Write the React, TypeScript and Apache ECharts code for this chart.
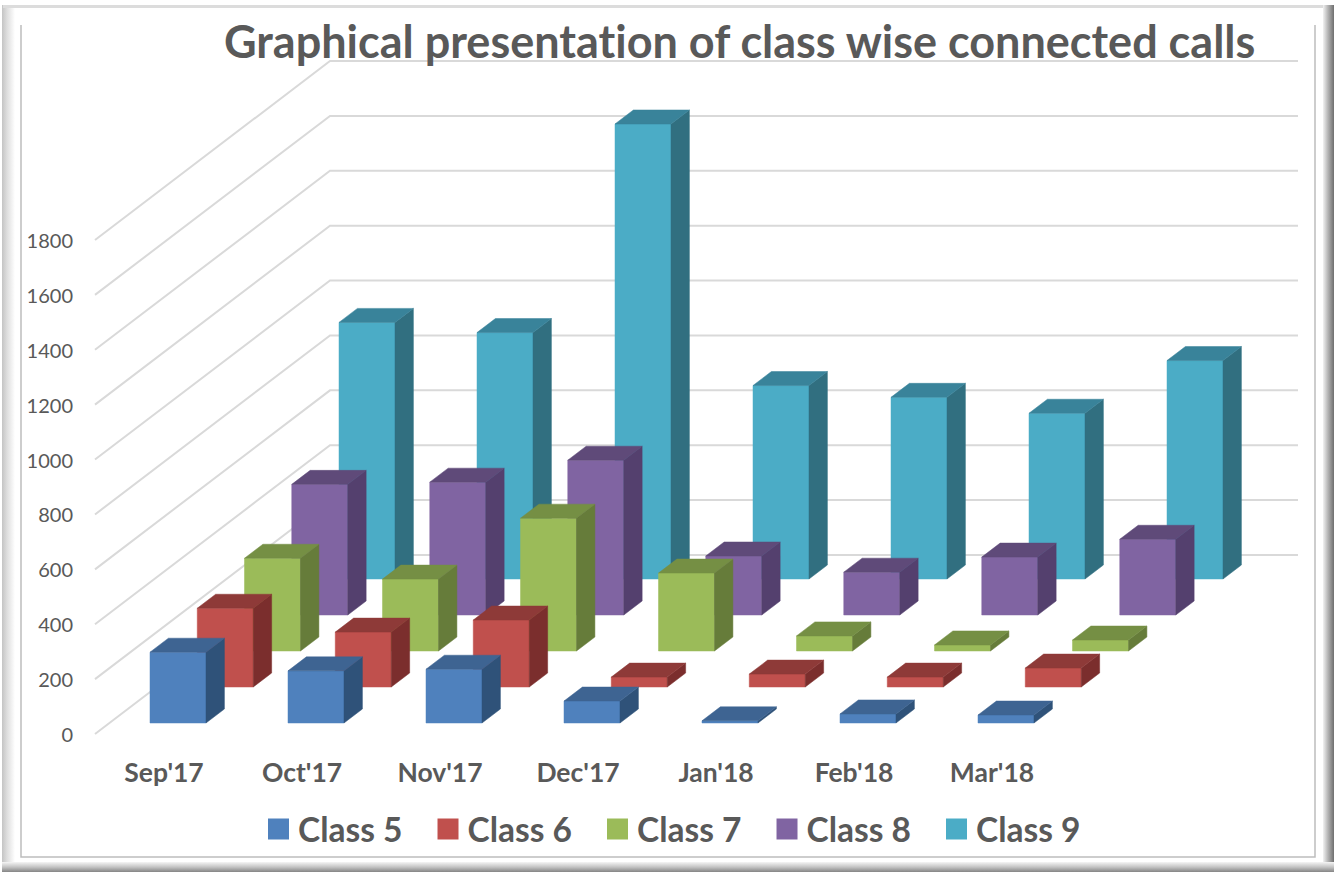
import React, { useEffect, useRef } from "react";
import * as echarts from "echarts";

const months = ["Sep'17", "Oct'17", "Nov'17", "Dec'17", "Jan'18", "Feb'18", "Mar'18"];
const class5 = [258, 190, 196, 80, 8, 33, 29];
const class6 = [287, 200, 244, 36, 47, 36, 69];
const class7 = [338, 262, 484, 284, 55, 22, 40];
const class8 = [476, 484, 564, 215, 156, 211, 276];
const class9 = [935, 898, 1658, 705, 662, 604, 796];
const gridTicks = [0, 200, 400, 600, 800, 1000, 1200, 1400, 1600, 1800];

const seriesDefs = [
  { name: "Class 5", values: class5, front: "#4f81bd", top: "#3e6492", side: "#2f5279", row: 0 },
  { name: "Class 6", values: class6, front: "#c0504d", top: "#8e3a38", side: "#7b2e2d", row: 1 },
  { name: "Class 7", values: class7, front: "#9bbb59", top: "#758f44", side: "#667c3a", row: 2 },
  { name: "Class 8", values: class8, front: "#8064a2", top: "#5f4a79", side: "#54406e", row: 3 },
  { name: "Class 9", values: class9, front: "#4bacc6", top: "#39839a", side: "#316f80", row: 4 },
];

const FONT = "Lato";
const TEXT = "#595959";
const W = 1336;
const H = 872;

function barRenderer(def: (typeof seriesDefs)[number]) {
  return (_params: any, api: any) => {
    const top = api.coord([api.value(0), api.value(1)]);
    const base = api.coord([api.value(0), 0]);
    const x0 = top[0] - 14 + def.row * 47.25;
    const x1 = x0 + 56;
    const shift = -11 - def.row * 36;
    const yT = top[1] + shift;
    const yB = base[1] + shift;
    const dx = 18.4;
    const dy = -14;
    return {
      type: "group",
      children: [
        {
          type: "polygon",
          shape: { points: [[x0, yB], [x1, yB], [x1, yT], [x0, yT]] },
          style: { fill: def.front, stroke: def.front, lineWidth: 0.5 },
        },
        {
          type: "polygon",
          shape: { points: [[x1, yB], [x1 + dx, yB + dy], [x1 + dx, yT + dy], [x1, yT]] },
          style: { fill: def.side, stroke: def.side, lineWidth: 0.5 },
        },
        {
          type: "polygon",
          shape: { points: [[x0, yT], [x1, yT], [x1 + dx, yT + dy], [x0 + dx, yT + dy]] },
          style: { fill: def.top, stroke: def.top, lineWidth: 0.5 },
        },
      ],
    };
  };
}

function gridRenderer(_params: any, api: any) {
  const p = api.coord([0, api.value(0)]);
  const left = p[0] - api.size([1, 0])[0] / 2;
  const y = p[1];
  return {
    type: "polyline",
    shape: { points: [[left, y], [left + 235, y - 179], [1298, y - 179]] },
    style: { fill: "none", stroke: "#d9d9d9", lineWidth: 2 },
  };
}

const grad = (x: number, y: number, x2: number, y2: number, stops: [number, string][]) => ({
  type: "linear", x, y, x2, y2,
  colorStops: stops.map(([offset, color]) => ({ offset, color })),
});

const frame = [
  { type: "rect", shape: { x: 2, y: 5, width: 13, height: 862 }, style: { fill: grad(0, 0, 1, 0, [[0, "#c4c4c4"], [0.4, "#dedede"], [1, "#ffffff"]]) } },
  { type: "rect", shape: { x: 3, y: 5, width: 1326, height: 3 }, style: { fill: "#dcdcdc" } },
  { type: "rect", shape: { x: 1323, y: 5, width: 11, height: 867 }, style: { fill: grad(0, 0, 1, 0, [[0, "#f2f2f2"], [0.45, "#b5b5b5"], [1, "#6f6f6f"]]) } },
  { type: "rect", shape: { x: 2, y: 862, width: 1332, height: 10 }, style: { fill: grad(0, 0, 0, 1, [[0, "#f5f5f5"], [0.5, "#c4c4c4"], [1, "#858585"]]) } },
  { type: "polyline", shape: { points: [[21, 25], [21, 857], [1315, 857], [1315, 25]] }, style: { fill: "none", stroke: "#bdbdbd", lineWidth: 1.5 } },
];

export default function App() {
  const ref = useRef<HTMLDivElement>(null);
  useEffect(() => {
    document.body.style.margin = "0";
    const chart = echarts.init(ref.current!, undefined, { renderer: "svg" });
    chart.setOption({
      animation: false,
      backgroundColor: "#ffffff",
      title: {
        text: "Graphical presentation of class wise connected calls",
        left: 219,
        top: 13,
        textStyle: { fontFamily: FONT, fontWeight: "bold", fontSize: 45, color: TEXT },
      },
      graphic: frame,
      grid: { left: 95, width: 966, top: 240, height: 494 },
      xAxis: {
        type: "category",
        data: months,
        axisLine: { show: false },
        axisTick: { show: false },
        axisLabel: { margin: 24, fontFamily: FONT, fontWeight: "bold", fontSize: 26.5, color: TEXT },
      },
      yAxis: {
        type: "value",
        min: 0,
        max: 1800,
        interval: 200,
        axisLine: { show: false },
        axisTick: { show: false },
        splitLine: { show: false },
        axisLabel: {
          margin: 22,
          fontFamily: FONT,
          fontSize: 20,
          color: TEXT,
          padding: [3, 0, 0, 0],
          formatter: (v: number) => String(v),
        },
      },
      legend: {
        left: 268,
        top: 812,
        padding: 0,
        icon: "rect",
        itemWidth: 21,
        itemHeight: 21,
        itemGap: 35,
        data: seriesDefs.map((d) => d.name),
        textStyle: { fontFamily: FONT, fontWeight: "bold", fontSize: 33.5, color: TEXT, padding: [0, 0, 0, 4] },
      },
      series: [
        {
          type: "custom",
          name: "grid",
          data: gridTicks.map((v) => [v]),
          encode: { y: 0 },
          renderItem: gridRenderer,
          silent: true,
          z: 1,
        },
        ...[...seriesDefs].reverse().map((d) => ({
          type: "custom",
          name: d.name,
          itemStyle: { color: d.front },
          data: d.values.map((v, i) => [i, v]),
          encode: { x: 0, y: 1 },
          renderItem: barRenderer(d),
          z: 2 + (4 - d.row),
        })),
      ],
    });
    return () => chart.dispose();
  }, []);
  return (
    <div
      ref={ref}
      style={{ position: "absolute", left: 0, top: 0, width: W, height: H, fontVariantLigatures: "none" }}
    />
  );
}
